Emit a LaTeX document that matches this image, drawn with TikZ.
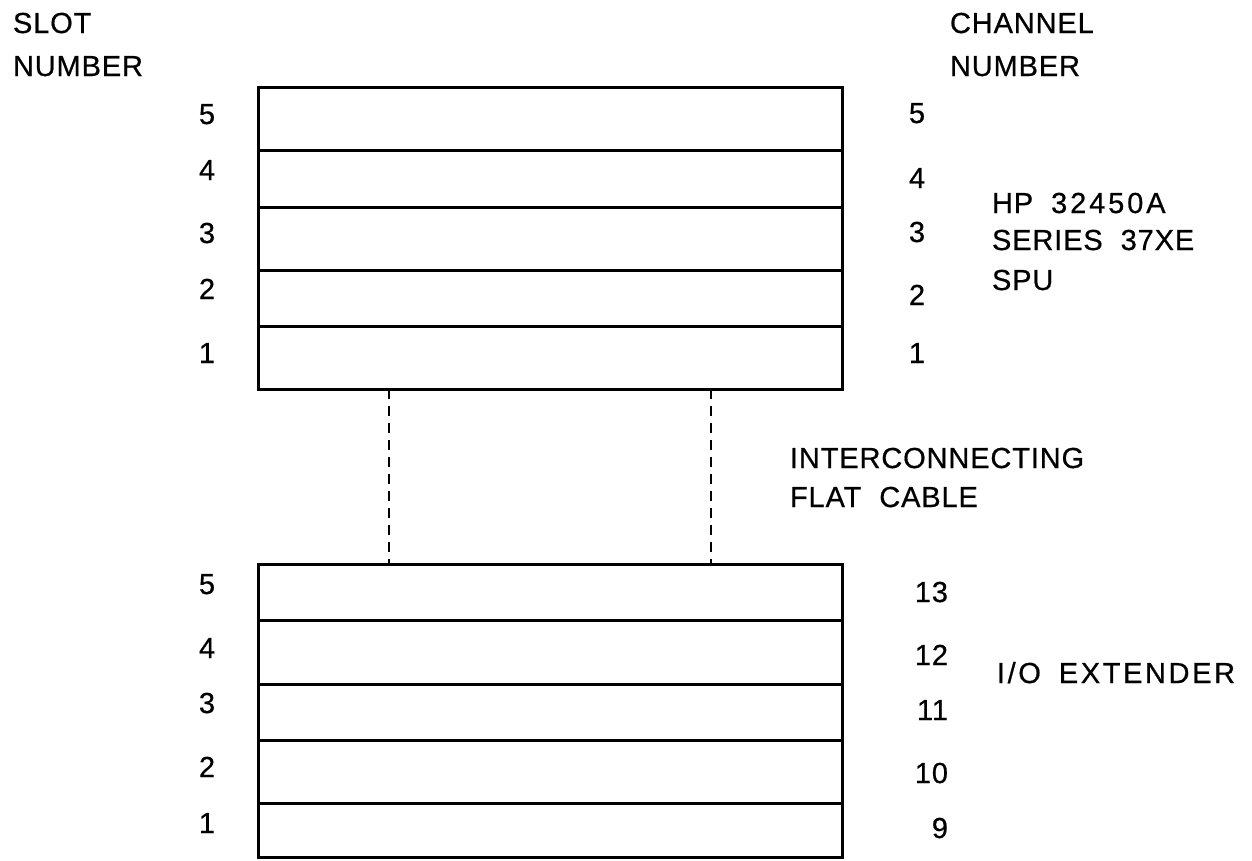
\documentclass[tikz,border=0pt]{standalone}
\usepackage{fontspec}
\setmainfont{Liberation Sans}[LetterSpace=3,FakeBold=0.6]
\newcommand{\wsp}{\hspace{0.62em}}
\newcommand{\wide}[1]{{\addfontfeature{LetterSpace=10}#1}}
\begin{document}
\begin{tikzpicture}[x=1pt,y=-1pt,
  txt/.style={font=\fontsize{29}{35}\selectfont, inner sep=0pt, outer sep=0pt},
  lbl/.style={txt, anchor=base west},
  num/.style={txt, anchor=base},
  rnum/.style={txt, anchor=base east},
  slotbox/.style={draw, line width=3pt, minimum width=584pt, inner sep=0pt, outer sep=0pt},
  cable/.style={line width=2.6pt, dash pattern=on 10pt off 7pt}]
\useasboundingbox (0,0) rectangle (1252,860);
% SPU slots
\node[slotbox, minimum height=63pt] (s5) at (550,118.5) {};
\node[slotbox, minimum height=57pt] (s4) at (550,178.5) {};
\node[slotbox, minimum height=63pt] (s3) at (550,238.5) {};
\node[slotbox, minimum height=56pt] (s2) at (550,298) {};
\node[slotbox, minimum height=63pt] (s1) at (550,357.5) {};
% extender slots
\node[slotbox, minimum height=56pt] (e5) at (550,592) {};
\node[slotbox, minimum height=64pt] (e4) at (550,652) {};
\node[slotbox, minimum height=56pt] (e3) at (550,712) {};
\node[slotbox, minimum height=63pt] (e2) at (550,771.5) {};
\node[slotbox, minimum height=54pt] (e1) at (550,830) {};
% cable
\coordinate (c1) at (389,0);
\coordinate (c2) at (711,0);
\draw[cable] (s1.south -| c1) -- (e5.north -| c1);
\draw[cable] (s1.south -| c2) -- (e5.north -| c2);
% headings
\node[lbl] (slotA) at (13,33) {SLOT};
\node[lbl] (slotB) at (13,76) {NUMBER};
\node[lbl] (chA) at (950,33) {CHANNEL};
\node[lbl] (chB) at (950,76) {NUMBER};
% left slot numbers
\node[num] (ls5) at (207,124) {5};
\node[num] (ls4) at (207,180) {4};
\node[num] (ls3) at (207,243) {3};
\node[num] (ls2) at (207,299) {2};
\node[num] (ls1) at (207,363) {1};
\node[num] (le5) at (207,594) {5};
\node[num] (le4) at (207,658) {4};
\node[num] (le3) at (207,713) {3};
\node[num] (le2) at (207,777) {2};
\node[num] (le1) at (207,833) {1};
% right channel numbers
\node[num] (rs5) at (917,123) {5};
\node[num] (rs4) at (917,188) {4};
\node[num] (rs3) at (917,242) {3};
\node[num] (rs2) at (917,305) {2};
\node[num] (rs1) at (917,363) {1};
\node[rnum] (re5) at (948,602) {13};
\node[rnum] (re4) at (948,665) {12};
\node[rnum] (re3) at (948,720) {11};
\node[rnum] (re2) at (948,783) {10};
\node[rnum] (re1) at (948,838) {9};
% descriptions
\node[lbl] (hpA) at (992,213) {HP\wsp\wide{32450A}};
\node[lbl] (hpB) at (992,250) {SERIES\wsp 37XE};
\node[lbl] (hpC) at (992,290) {SPU};
\node[lbl] (cabA) at (790,468) {INTERCONNECTING};
\node[lbl] (cabB) at (790,507) {FLAT\wsp CABLE};
\node[lbl] (ioA) at (997,683) {{\addfontfeature{LetterSpace=9}I/O\wsp EXTENDER}};
\end{tikzpicture}
\end{document}
